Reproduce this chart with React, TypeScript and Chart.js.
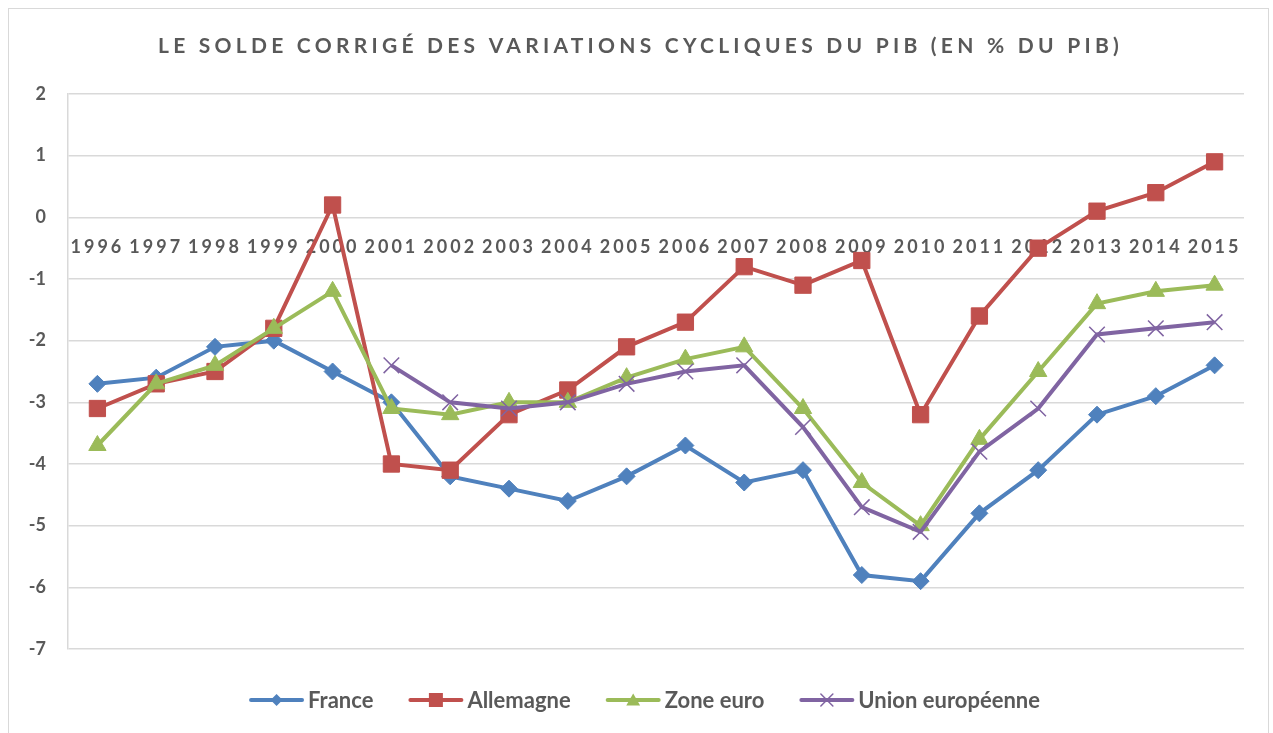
import React, { useEffect, useRef } from 'react';
import { Chart, registerables } from 'chart.js';

Chart.register(...registerables);

const TITLE = 'LE SOLDE CORRIGÉ DES VARIATIONS CYCLIQUES DU PIB (EN % DU PIB)';

const years = ['1996', '1997', '1998', '1999', '2000', '2001', '2002', '2003', '2004', '2005',
  '2006', '2007', '2008', '2009', '2010', '2011', '2012', '2013', '2014', '2015'];

const france = [-2.7, -2.6, -2.1, -2.0, -2.5, -3.0, -4.2, -4.4, -4.6, -4.2,
  -3.7, -4.3, -4.1, -5.8, -5.9, -4.8, -4.1, -3.2, -2.9, -2.4];

const allemagne = [-3.1, -2.7, -2.5, -1.8, 0.2, -4.0, -4.1, -3.2, -2.8, -2.1,
  -1.7, -0.8, -1.1, -0.7, -3.2, -1.6, -0.5, 0.1, 0.4, 0.9];

const zoneEuro = [-3.7, -2.7, -2.4, -1.8, -1.2, -3.1, -3.2, -3.0, -3.0, -2.6,
  -2.3, -2.1, -3.1, -4.3, -5.0, -3.6, -2.5, -1.4, -1.2, -1.1];

const unionEuropeenne = [null, null, null, null, null, -2.4, -3.0, -3.1, -3.0, -2.7,
  -2.5, -2.4, -3.4, -4.7, -5.1, -3.8, -3.1, -1.9, -1.8, -1.7];

const yMin = -7;
const yMax = 2;

const FONT = 'Lato, "Open Sans", sans-serif';
const TEXT = '#595959';
const GRID = '#d9d9d9';

const BLUE = '#4f81bd';
const RED = '#c0504d';
const GREEN = '#9bbb59';
const PURPLE = '#8064a2';

function drawLegendMarker(ctx: CanvasRenderingContext2D, style: string, x: number, y: number, color: string) {
  ctx.save();
  ctx.fillStyle = color;
  ctx.strokeStyle = color;
  ctx.beginPath();
  if (style === 'rectRot') {
    const r = 6;
    ctx.moveTo(x - r, y);
    ctx.lineTo(x, y - r);
    ctx.lineTo(x + r, y);
    ctx.lineTo(x, y + r);
    ctx.closePath();
    ctx.fill();
  } else if (style === 'rect') {
    const s = 14;
    ctx.rect(x - s / 2, y - s / 2, s, s);
    ctx.fill();
  } else if (style === 'triangle') {
    const r = 8;
    for (let i = 0; i < 3; i++) {
      const a = (i * 2 * Math.PI) / 3;
      const px = x + Math.sin(a) * r;
      const py = y - Math.cos(a) * r + 1.5;
      if (i === 0) ctx.moveTo(px, py); else ctx.lineTo(px, py);
    }
    ctx.closePath();
    ctx.fill();
  } else if (style === 'crossRot') {
    const r = 6;
    ctx.lineWidth = 1.5;
    ctx.moveTo(x - r, y - r);
    ctx.lineTo(x + r, y + r);
    ctx.moveTo(x + r, y - r);
    ctx.lineTo(x - r, y + r);
    ctx.stroke();
  }
  ctx.restore();
}

const decorPlugin = {
  id: 'decor',
  beforeDraw(chart: any) {
    const xs: any = chart.scales.x;
    if (xs && !xs.__ls) {
      const orig = xs.drawLabels.bind(xs);
      xs.drawLabels = (ca: any) => {
        const c: any = chart.ctx;
        c.save();
        c.letterSpacing = '3px';
        orig(ca);
        c.restore();
      };
      xs.__ls = true;
    }
  },
  afterDraw(chart: any) {
    const ctx: any = chart.ctx;
    // Title
    ctx.save();
    ctx.font = `bold 21px ${FONT}`;
    ctx.fillStyle = TEXT;
    ctx.textAlign = 'center';
    ctx.textBaseline = 'middle';
    ctx.letterSpacing = '4.25px';
    ctx.fillText(TITLE, chart.width / 2 + 2, 37);
    ctx.restore();

    // Legend
    const datasets = chart.data.datasets;
    const lineLen = 55;
    const gapText = 4;
    const itemGap = 35;
    ctx.save();
    ctx.font = `bold 22px ${FONT}`;
    ctx.letterSpacing = '0px';
    const widths = datasets.map((d: any) => ctx.measureText(d.label).width);
    const total = widths.reduce((a: number, w: number) => a + lineLen + gapText + w, 0) + itemGap * (datasets.length - 1);
    let x = chart.width / 2 + 6 - total / 2;
    const y = 691;
    datasets.forEach((d: any, i: number) => {
      ctx.strokeStyle = d.borderColor;
      ctx.lineWidth = 4;
      ctx.lineCap = 'round';
      ctx.beginPath();
      ctx.moveTo(x + 2, y);
      ctx.lineTo(x + lineLen - 2, y);
      ctx.stroke();
      drawLegendMarker(ctx, d.pointStyle, x + lineLen / 2, y, d.borderColor);
      ctx.fillStyle = TEXT;
      ctx.textAlign = 'left';
      ctx.textBaseline = 'middle';
      ctx.fillText(d.label, x + lineLen + gapText, y + 1);
      x += lineLen + gapText + widths[i] + itemGap;
    });
    ctx.restore();
  },
};

export default function App() {
  const canvasRef = useRef<HTMLCanvasElement | null>(null);

  useEffect(() => {
    if (!canvasRef.current) return;
    const chart = new Chart(canvasRef.current, {
      type: 'line',
      data: {
        labels: years,
        datasets: [
          {
            label: 'France', data: france, borderColor: BLUE, backgroundColor: BLUE,
            borderWidth: 4, pointStyle: 'rectRot', pointRadius: 8.5, pointBorderWidth: 1,
            pointBackgroundColor: BLUE, pointBorderColor: BLUE, tension: 0, order: 3,
          },
          {
            label: 'Allemagne', data: allemagne, borderColor: RED, backgroundColor: RED,
            borderWidth: 4, pointStyle: 'rect', pointRadius: 11.5, pointBorderWidth: 1,
            pointBackgroundColor: RED, pointBorderColor: RED, tension: 0, order: 2,
          },
          {
            label: 'Zone euro', data: zoneEuro, borderColor: GREEN, backgroundColor: GREEN,
            borderWidth: 4, pointStyle: 'triangle', pointRadius: 10, pointBorderWidth: 1,
            pointBackgroundColor: GREEN, pointBorderColor: GREEN, tension: 0, order: 1,
          },
          {
            label: 'Union européenne', data: unionEuropeenne, borderColor: PURPLE, backgroundColor: PURPLE,
            borderWidth: 4, pointStyle: 'crossRot', pointRadius: 11, pointBorderWidth: 1.5,
            pointBackgroundColor: PURPLE, pointBorderColor: PURPLE, tension: 0, order: 0,
            spanGaps: false,
          },
        ] as any,
      },
      options: {
        responsive: false,
        animation: false,
        devicePixelRatio: 1,
        layout: { padding: { top: 85, bottom: 85, left: 0, right: 24 } },
        plugins: {
          legend: { display: false },
          title: { display: false },
          tooltip: { enabled: false },
        },
        scales: {
          x: {
            type: 'category',
            position: { y: 0 } as any,
            offset: true,
            grid: { display: false, drawTicks: false },
            border: { display: false },
            ticks: {
              autoSkip: false,
              maxRotation: 0,
              minRotation: 0,
              padding: 19,
              color: TEXT,
              font: { family: FONT, size: 18, weight: 'bold' },
            },
            afterFit: (s: any) => { s.paddingLeft = 0; s.paddingRight = 0; },
          },
          y: {
            min: yMin,
            max: yMax,
            ticks: {
              stepSize: 1,
              padding: 22,
              color: TEXT,
              font: { family: FONT, size: 18, weight: 'bold' },
            },
            grid: { color: GRID, lineWidth: 1.5, drawTicks: false },
            border: { display: true, color: GRID, width: 1.5 },
            afterFit: (s: any) => { s.width = 59; s.paddingTop = 0; s.paddingBottom = 0; },
          },
        },
      } as any,
      plugins: [decorPlugin],
    });
    return () => chart.destroy();
  }, []);

  return (
    <div
      style={{
        position: 'fixed',
        left: 8,
        top: 8,
        width: 1259,
        height: 725,
        borderTop: `1px solid ${GRID}`,
        borderLeft: `1px solid ${GRID}`,
        borderRight: `1px solid ${GRID}`,
        background: '#fff',
        overflow: 'hidden',
      }}
    >
      <canvas ref={canvasRef} width={1259} height={725} style={{ display: 'block' }} />
    </div>
  );
}
